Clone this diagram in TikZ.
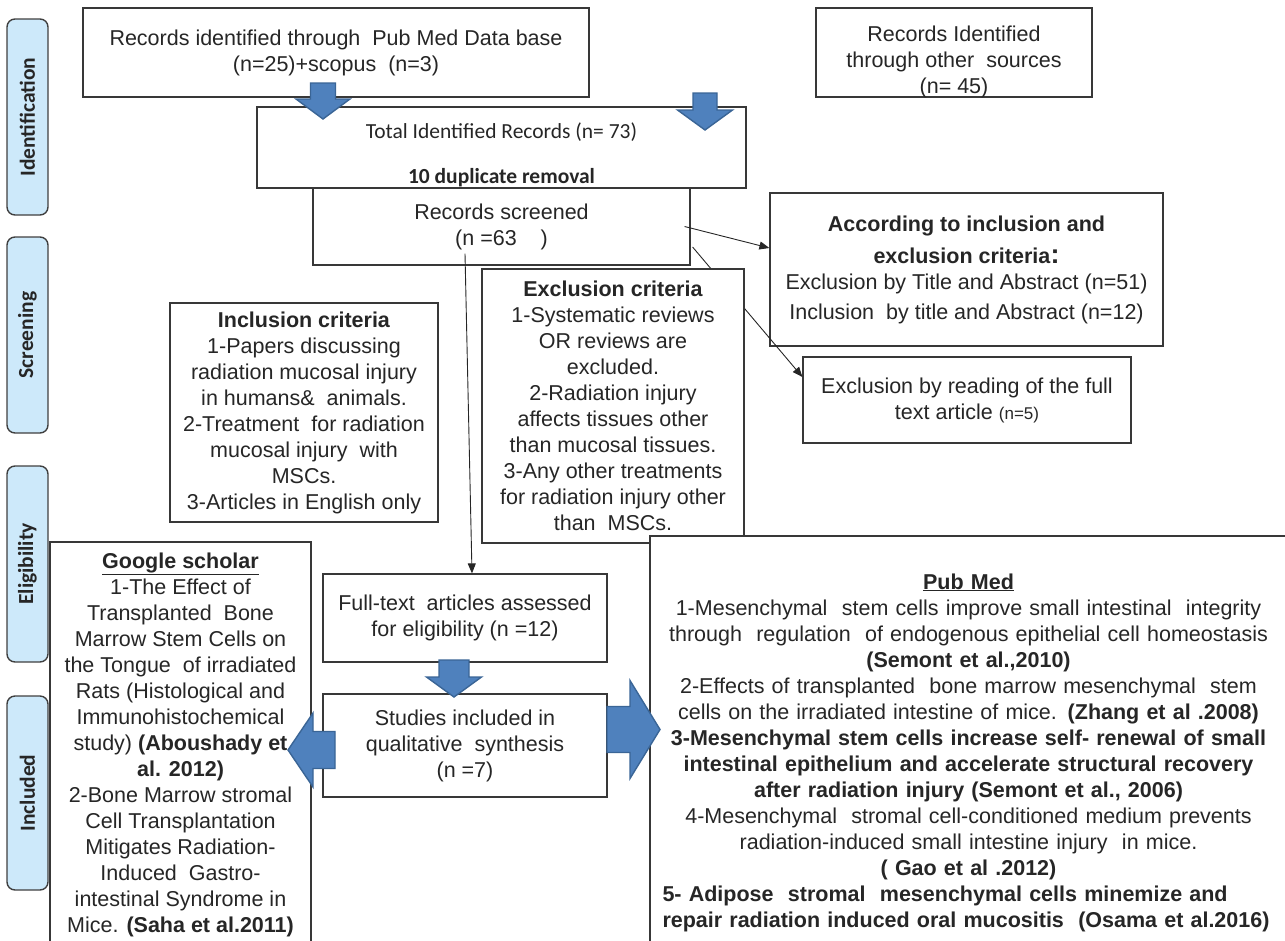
\documentclass[tikz,border=0pt]{standalone}
\usepackage{fontspec}
\setmainfont{Liberation Sans}
\newfontfamily\calibri{Carlito}
\usetikzlibrary{arrows.meta}
\definecolor{stagefill}{HTML}{CDE9FA}
\definecolor{stageline}{HTML}{404040}
\definecolor{arrowblue}{HTML}{4F81BD}
\definecolor{arrowline}{HTML}{3A6596}
\definecolor{boxline}{HTML}{383838}
\definecolor{textgray}{HTML}{262626}
\newcommand{\txtsize}{\fontsize{21.5}{26}\selectfont}
\tikzset{%
	box/.style      = {draw=boxline, line width=1.2pt, fill=white, inner sep=0pt, align=center, text=textgray, font=\txtsize}, % Box
	stage/.style    = {draw=stageline, line width=1.4pt, fill=stagefill, rounded corners=8pt, inner sep=0pt, minimum width=196pt, minimum height=41pt, rotate=90, text=textgray, font=\calibri\bfseries\txtsize}, % Side label
	link/.style     = {-{Triangle[length=10pt,width=8pt]}, line width=0.9pt, draw=textgray}, % Thin arrow
	% block arrow: length / head length / head half width / shaft half width
	pics/blockarrow/.style n args = {4}{code={%
		\filldraw[fill=arrowblue, draw=arrowline, line width=1.4pt, line join=miter]
			(0,-#4) -- ({#1-#2},-#4) -- ({#1-#2},-#3) -- (#1,0) -- ({#1-#2},#3) -- ({#1-#2},#4) -- (0,#4) -- cycle;}},
}

\begin{document}
\begin{tikzpicture}[x=1pt, y=-1pt]
	\useasboundingbox (0,0) rectangle (1285,940);
	\clip (0,0) rectangle (1285,940);
	% side labels
	\node[stage] (ident) at (27.5,117) {Identification};
	\node[stage] (screen) at (27.5,335) {Screening};
	\node[stage] (elig) at (27.5,564) {Eligibility};
	\node[stage, minimum width=194pt] (incl) at (27.5,793) {Included};
	% identification
	\node[box, minimum width=506pt, minimum height=89pt] (pubmeddb) at (336,52.5) {Records identified through\ \ Pub Med Data base\\(n=25)+scopus\ \ (n=3)};
	\node[box, minimum width=276pt, minimum height=89pt, label={[align=center, font=\txtsize, text=textgray, yshift=-9pt]center:Records Identified\\through other\ \ sources\\(n= 45)}] (other) at (954,52.5) {};
	\node[box, minimum width=489pt, minimum height=81pt, label={[align=center, font=\calibri\txtsize, text=textgray, yshift=-7pt]center:Total Identified Records (n= 73)\\[19pt]\textbf{10 duplicate removal}}] (total) at (501.5,147.5) {};
	\pic[rotate=-90] at (323,83) {blockarrow={36}{20}{27}{12.5}};
	\pic[rotate=-90] at (705,93) {blockarrow={37}{20}{27.5}{12}};
	% screening
	\node[box, minimum width=377pt, minimum height=77pt] (screened) at (501.5,226.5) {Records screened\\(n =63\ \ \ \ )};
	\node[box, minimum width=393pt, minimum height=153pt] (according) at (966.5,269.5) {\textbf{According to inclusion and}\\[6pt]\textbf{exclusion criteria}{\fontsize{27}{26}\selectfont\textbf{:}}\\Exclusion by Title and Abstract (n=51)\\[4pt]Inclusion\ \ by title and Abstract (n=12)};
	\node[box, minimum width=328pt, minimum height=86pt] (reading) at (967,400) {Exclusion by reading of the full\\text article {\fontsize{17}{26}\selectfont(n=5)}};
	\draw[link] ([xshift=-6pt]screened.east) -- ([yshift=21.5pt]according.west);
	\draw[link] ([xshift=2pt,yshift=-20.5pt]screened.east) -- ([yshift=23pt]reading.west);
	\node[box, minimum width=268pt, minimum height=219pt] (inccrit) at (304,412.5) {\textbf{Inclusion criteria}\\1-Papers discussing\\radiation mucosal injury\\in humans\&\ \ animals.\\2-Treatment\ \ for radiation\\mucosal injury\ \ with\\MSCs.\\3-Articles in English only};
	\node[box, minimum width=262pt, minimum height=274pt] (exccrit) at (613,406) {\textbf{Exclusion criteria}\\1-Systematic reviews\\OR reviews are\\excluded.\\2-Radiation injury\\affects tissues other\\than mucosal tissues.\\3-Any other treatments\\for radiation injury other\\than\ \ MSCs.};
	% eligibility and included
	\node[box, minimum width=284pt, minimum height=88pt] (fulltext) at (465,618) {Full-text\ \ articles assessed\\for eligibility (n =12)};
	\draw[link] ([xshift=-36.5pt,yshift=12pt]screened.south) -- ([xshift=7pt]fulltext.north);
	\node[box, minimum width=284pt, minimum height=103pt] (studies) at (465,745.5) {Studies included in\\qualitative\ \ synthesis\\(n =7)};
	\pic[rotate=-90] at (454,660) {blockarrow={37}{20}{27.5}{15}};
	\node[box, minimum width=261pt, minimum height=406pt] (google) at (180.5,745) {\underline{\textbf{Google scholar}}\\1-The Effect of\\Transplanted\ \ Bone\\Marrow Stem Cells on\\the Tongue\ \ of irradiated\\Rats (Histological and\\Immunohistochemical\\study) \textbf{(Aboushady et}\\\textbf{al. 2012)}\\2-Bone Marrow stromal\\Cell Transplantation\\Mitigates Radiation-\\Induced\ \ Gastro-\\intestinal Syndrome in\\Mice. \textbf{(Saha et al.2011)}};
	\node[box, minimum width=637pt, minimum height=433pt, text width=612pt] (pubmed) at (968.5,752.5) {\underline{\textbf{Pub Med}}\\1-Mesenchymal\ \ stem cells improve small intestinal\ \ integrity\\through\ \ regulation\ \ of endogenous epithelial cell homeostasis\\\textbf{(Semont et al.,2010)}\\2-Effects of transplanted\ \ bone marrow mesenchymal\ \ stem\\cells on the irradiated intestine of mice. \textbf{(Zhang et al .2008)}\\\textbf{3-Mesenchymal stem cells increase self- renewal of small}\\\textbf{intestinal epithelium and accelerate structural recovery}\\\textbf{after radiation injury (Semont et al., 2006)}\\4-Mesenchymal\ \ stromal cell-conditioned medium prevents\\radiation-induced small intestine injury\ \ in mice.\\\textbf{( Gao et al .2012)}\\\makebox[\linewidth][l]{\textbf{5- Adipose\ \ stromal\ \ mesenchymal cells minemize and}}\\\makebox[\linewidth][l]{\textbf{repair radiation induced oral mucositis\ \ (Osama et al.2016)}}};
	\pic[rotate=180] at (335,750) {blockarrow={47}{25}{37}{18.5}};
	\pic at (607,729.5) {blockarrow={53}{30}{49}{23}};
\end{tikzpicture}
\end{document}
